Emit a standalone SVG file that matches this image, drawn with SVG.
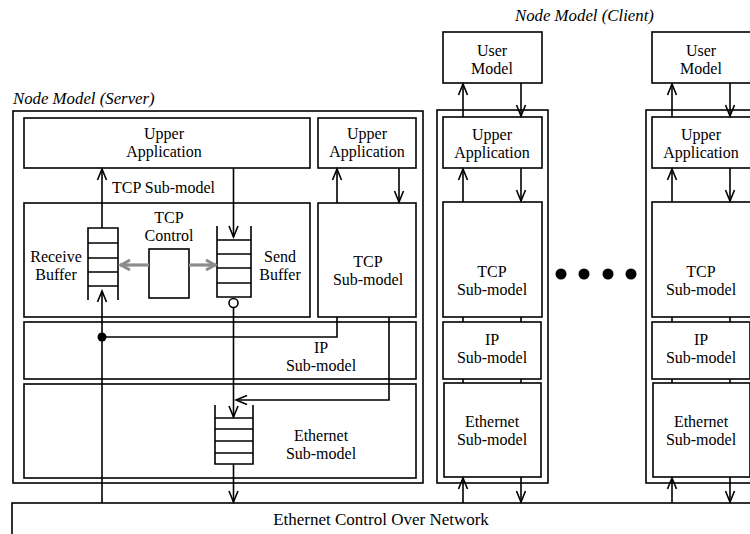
<svg xmlns="http://www.w3.org/2000/svg" width="750" height="534" viewBox="0 0 750 534">
<style>
  .box{fill:#fff;stroke:#000;stroke-width:1.6}
  .ln{fill:none;stroke:#000;stroke-width:1.6}
  .t{font-size:16px;fill:#000;text-anchor:middle}
  .ti{font-size:16.8px;font-style:italic;fill:#000}
  .a{marker-end:url(#arr)}
  .g{fill:none;stroke:#8c8c8c;stroke-width:3.2;marker-end:url(#garr)}
</style>
<defs>
  <marker id="arr" markerUnits="userSpaceOnUse" viewBox="-13 -7 15 14" markerWidth="15" markerHeight="14" refX="0" refY="0" orient="auto">
    <path d="M-11,-4.5 L0,0 L-11,4.5" fill="none" stroke="#000" stroke-width="1.6"/>
  </marker>
  <marker id="garr" markerUnits="userSpaceOnUse" viewBox="-14 -8 16 16" markerWidth="16" markerHeight="16" refX="0" refY="0" orient="auto">
    <path d="M-10,-5 L-1,0 L-10,5" fill="none" stroke="#8c8c8c" stroke-width="3"/>
  </marker>
</defs>
<rect width="750" height="534" fill="#fff"/>

<g font-family="Liberation Serif, DejaVu Serif, serif">
<text class="ti" x="13" y="104">Node Model (Server)</text>
<text class="ti" x="515" y="21">Node Model (Client)</text>

<g id="server">
  <rect class="box" x="13" y="111" width="410" height="372"/>
  <g id="s-upper-app">
    <rect class="box" x="24" y="118" width="286" height="50"/>
    <text class="t" x="164" y="139">Upper</text>
    <text class="t" x="164" y="157">Application</text>
  </g>
  <g id="s-upper-app2">
    <rect class="box" x="318" y="118" width="98" height="50"/>
    <text class="t" x="367" y="139">Upper</text>
    <text class="t" x="367" y="157">Application</text>
  </g>
  <text class="t" x="112" y="193" style="text-anchor:start">TCP Sub-model</text>
  <g id="s-tcp">
    <rect class="box" x="24" y="203" width="286" height="114"/>
    <text class="t" x="169" y="223">TCP</text>
    <text class="t" x="169" y="241">Control</text>
    <text class="t" x="56" y="262">Receive</text>
    <text class="t" x="56" y="280">Buffer</text>
    <text class="t" x="280" y="262">Send</text>
    <text class="t" x="280" y="280">Buffer</text>
  </g>
  <g id="s-tcp-control">
    <rect class="box" x="149" y="249" width="40" height="49"/>
  </g>
  <g id="s-receive-buffer">
    <path class="ln" d="M88,300 V228 H118 V300 M88,243 H118 M88,258 H118 M88,272 H118 M88,286 H118"/>
  </g>
  <g id="s-send-buffer">
    <path class="ln" d="M217,226 V297 H251 V226 M217,240 H251 M217,254 H251 M217,268 H251 M217,283 H251"/>
    <circle cx="233.5" cy="303" r="4.5" fill="#fff" stroke="#000" stroke-width="1.6"/>
  </g>
  <g id="s-tcp2">
    <rect class="box" x="318" y="203" width="98" height="114"/>
    <text class="t" x="368" y="267">TCP</text>
    <text class="t" x="368" y="285">Sub-model</text>
  </g>
  <g id="s-ip">
    <rect class="box" x="24" y="322" width="392" height="57"/>
    <text class="t" x="321" y="353">IP</text>
    <text class="t" x="321" y="371">Sub-model</text>
  </g>
  <g id="s-ethernet">
    <rect class="box" x="24" y="384" width="392" height="94"/>
    <text class="t" x="321" y="441">Ethernet</text>
    <text class="t" x="321" y="459">Sub-model</text>
  </g>
  <g id="s-eth-queue">
    <path class="ln" d="M215,405 V464 H253 V405 M215,418 H253 M215,429 H253 M215,441 H253 M215,453 H253"/>
  </g>
</g>

<g id="client1">
  <g id="c1-user"><rect class="box" x="443" y="32" width="99" height="51"/>
    <text class="t" x="492" y="56">User</text><text class="t" x="492" y="74">Model</text></g>
  <rect class="box" x="437" y="110" width="111" height="373"/>
  <g id="c1-upper"><rect class="box" x="443" y="117" width="99" height="51"/>
    <text class="t" x="492" y="140">Upper</text><text class="t" x="492" y="158">Application</text></g>
  <g id="c1-tcp"><rect class="box" x="443" y="202" width="99" height="115"/>
    <text class="t" x="492" y="277">TCP</text><text class="t" x="492" y="295">Sub-model</text></g>
  <g id="c1-ip"><rect class="box" x="443" y="322" width="98" height="57"/>
    <text class="t" x="492" y="345">IP</text><text class="t" x="492" y="363">Sub-model</text></g>
  <g id="c1-eth"><rect class="box" x="444" y="383" width="97" height="94"/>
    <text class="t" x="492" y="427">Ethernet</text><text class="t" x="492" y="445">Sub-model</text></g>
</g>

<g id="client2">
  <g id="c2-user"><rect class="box" x="652" y="32" width="99" height="51"/>
    <text class="t" x="701" y="56">User</text><text class="t" x="701" y="74">Model</text></g>
  <rect class="box" x="646" y="110" width="111" height="373"/>
  <g id="c2-upper"><rect class="box" x="652" y="117" width="99" height="51"/>
    <text class="t" x="701" y="140">Upper</text><text class="t" x="701" y="158">Application</text></g>
  <g id="c2-tcp"><rect class="box" x="652" y="202" width="99" height="115"/>
    <text class="t" x="701" y="277">TCP</text><text class="t" x="701" y="295">Sub-model</text></g>
  <g id="c2-ip"><rect class="box" x="652" y="322" width="98" height="57"/>
    <text class="t" x="701" y="345">IP</text><text class="t" x="701" y="363">Sub-model</text></g>
  <g id="c2-eth"><rect class="box" x="653" y="383" width="97" height="94"/>
    <text class="t" x="701" y="427">Ethernet</text><text class="t" x="701" y="445">Sub-model</text></g>
</g>

<g id="dots">
  <circle cx="561" cy="274" r="5.5"/>
  <circle cx="584" cy="274" r="5.5"/>
  <circle cx="608" cy="274" r="5.5"/>
  <circle cx="631" cy="274" r="5.5"/>
</g>

<g id="network">
  <rect class="box" x="12" y="503" width="760" height="50"/>
  <text class="t" x="381" y="525" style="font-size:17px">Ethernet Control Over Network</text>
</g>
</g>

<g id="connectors">
  <line class="ln a" x1="102" y1="228" x2="102" y2="169"/>
  <line class="ln a" x1="233.5" y1="168" x2="233.5" y2="237"/>
  <line class="g" x1="149" y1="265" x2="120" y2="265"/>
  <line class="g" x1="189" y1="265" x2="216" y2="265"/>
  <line class="ln a" x1="337" y1="203" x2="337" y2="169"/>
  <line class="ln a" x1="399" y1="168" x2="399" y2="202"/>
  <path class="ln" d="M337,317 V337 H102"/>
  <circle cx="102" cy="337" r="4.5"/>
  <line class="ln a" x1="102" y1="503" x2="102" y2="291"/>
  <path class="ln a" d="M389,317 V400 H236"/>
  <line class="ln a" x1="233.5" y1="307.5" x2="233.5" y2="417"/>
  <line class="ln a" x1="233.5" y1="464" x2="233.5" y2="502"/>
  <line class="ln a" x1="463" y1="117" x2="463" y2="84"/>
  <line class="ln a" x1="521" y1="83" x2="521" y2="116"/>
  <line class="ln a" x1="463" y1="202" x2="463" y2="169"/>
  <line class="ln a" x1="521" y1="168" x2="521" y2="201"/>
  <path class="ln" d="M463,317 V322 M521,317 V322 M463,379 V383 M521,379 V383"/>
  <line class="ln a" x1="463" y1="503" x2="463" y2="478"/>
  <line class="ln a" x1="521" y1="477" x2="521" y2="502"/>
  <line class="ln a" x1="672" y1="117" x2="672" y2="84"/>
  <line class="ln a" x1="730" y1="83" x2="730" y2="116"/>
  <line class="ln a" x1="672" y1="202" x2="672" y2="169"/>
  <line class="ln a" x1="730" y1="168" x2="730" y2="201"/>
  <path class="ln" d="M672,317 V322 M730,317 V322 M672,379 V383 M730,379 V383"/>
  <line class="ln a" x1="672" y1="503" x2="672" y2="478"/>
  <line class="ln a" x1="730" y1="477" x2="730" y2="502"/>
</g>
</svg>
